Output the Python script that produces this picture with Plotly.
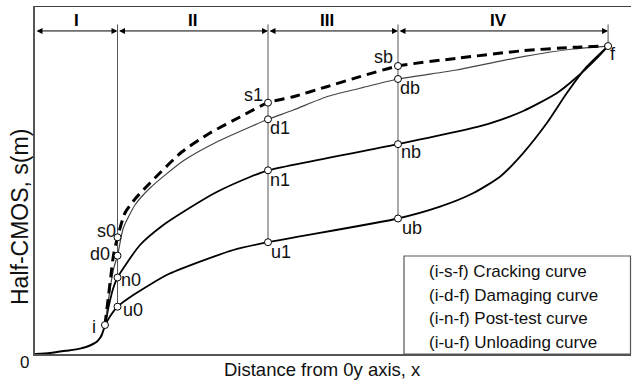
import plotly.graph_objects as go

# ---------------- data (normalised: f = (100, 100)) ----------------
# initial curve 0 -> i
base_x = [0, 2.62, 5.53, 7.85, 9.02, 10.12, 10.77, 11.34, 11.64, 11.95, 12.21]
base_y = [0, 0.32, 1.07, 1.75, 2.37, 3.25, 3.99, 5.20, 6.17, 7.79, 9.42]

# (i-s-f) Cracking curve
crack_x = [12.21, 12.74, 13.26, 13.70, 14.40, 15.70, 17.45, 20.07, 25.60, 30.54, 35.77, 40.66,
           45.08, 50.90, 56.71, 63.34, 73.59, 85.21, 93.88, 100]
crack_y = [9.42, 17.54, 25.65, 32.15, 37.89, 45.79, 50.33, 55.53, 65.59, 71.76, 76.96, 81.60,
           83.55, 86.80, 90.05, 93.52, 96.02, 98.49, 99.59, 100]

# (i-d-f) Damaging curve
dam_x = [12.21, 12.74, 13.26, 13.79, 14.40, 15.41, 17.45, 20.07, 25.83, 31.71, 37.51, 40.66,
         45.08, 50.90, 56.71, 63.34, 73.59, 85.15, 93.88, 100]
dam_y = [9.42, 16.56, 23.05, 28.25, 31.92, 40.91, 48.38, 53.90, 62.67, 68.84, 73.71, 76.21,
         79.23, 83.55, 86.28, 89.30, 92.22, 96.54, 99.04, 100]

# (i-n-f) Post-test curve
post_x = [12.21, 12.91, 13.61, 14.40, 18.32, 22.39, 25.83, 31.71, 37.51, 40.66,
          63.34, 73.59, 79.39, 85.21, 91.03, 94.52, 98.01, 100]
post_y = [9.42, 15.91, 21.11, 24.84, 35.39, 41.89, 46.11, 52.60, 57.48, 59.65,
          68.13, 72.18, 74.91, 78.91, 84.65, 89.85, 96.02, 100]

# (i-u-f) Unloading curve
unl_x = [12.21, 13.26, 14.40, 17.15, 22.98, 28.79, 34.60, 40.66,
         63.34, 70.67, 76.43, 81.14, 85.15, 89.29, 92.78, 96.27, 100]
unl_y = [9.42, 12.66, 15.36, 19.16, 25.65, 29.97, 33.77, 36.30,
         44.00, 47.83, 52.18, 57.57, 65.17, 74.91, 84.65, 93.29, 100]

# labelled points
pt_names = ["i", "s0", "d0", "n0", "u0", "s1", "d1", "n1", "u1",
            "sb", "db", "nb", "ub", "f"]
pt_x = [12.21, 14.40, 14.40, 14.40, 14.40, 40.66, 40.66, 40.66, 40.66,
        63.34, 63.34, 63.34, 63.34, 100]
pt_y = [9.42, 37.89, 31.92, 24.84, 15.36, 81.60, 76.21, 59.65, 36.30,
        93.52, 89.30, 68.13, 44.00, 100]

# zone boundaries and names
zone_bounds = [0, 14.40, 40.66, 63.34, 100]
zone_names = ["I", "II", "III", "IV"]
# lowest point reached by each boundary line
bound_low = [None, 15.36, 36.30, 44.00, 100]

legend_lines = ["(i-s-f) Cracking curve", "(i-d-f) Damaging curve",
                "(i-n-f) Post-test curve", "(i-u-f) Unloading curve"]

x_title = "Distance from 0y axis, x"
y_title = "Half-CMOS, s(m)"

# ---------------- styling / layout constants ----------------
XR = [0, 104]
YR = [0, 113]
FONT = "Liberation Sans, Arial, Helvetica, sans-serif"
Y_ARROW = 104.9
Y_TICKTOP = 107.0
Y_ZONE_LABEL = 108.2
ZONE_LABEL_SHIFT = [0, 0, -6, -5]
L, R, T, B, W, H = 35, 1, 6, 30, 632, 384
PW, PH = W - L - R, H - T - B


def paper_x(px):
    return (px - L) / PW


def paper_y(py):
    return (H - B - py) / PH


# pixel offsets of point labels (dx, dy_up)
label_shift = {
    "i": (-11, -2), "s0": (-11, 6), "d0": (-18, 2), "n0": (13, -2), "u0": (15, -3),
    "s1": (-15, 8), "d1": (12, -9), "n1": (12, -10), "u1": (13, -10),
    "sb": (-14, 9), "db": (12, -9), "nb": (13, -8), "ub": (14, -9), "f": (5, -8),
}

fig = go.Figure()

line_common = dict(shape="spline", smoothing=0.6)

# boundary vertical lines
for xb, lo in zip(zone_bounds[1:], bound_low[1:]):
    fig.add_trace(go.Scatter(x=[xb, xb], y=[lo, Y_TICKTOP], mode="lines",
                             line=dict(color="#555", width=1), hoverinfo="skip",
                             showlegend=False))

fig.add_trace(go.Scatter(x=base_x, y=base_y, mode="lines",
                         line=dict(color="black", width=2, **line_common),
                         showlegend=False))
fig.add_trace(go.Scatter(x=unl_x, y=unl_y, mode="lines",
                         line=dict(color="black", width=1.8, **line_common),
                         showlegend=False))
fig.add_trace(go.Scatter(x=post_x, y=post_y, mode="lines",
                         line=dict(color="black", width=1.8, **line_common),
                         showlegend=False))
fig.add_trace(go.Scatter(x=dam_x, y=dam_y, mode="lines",
                         line=dict(color="#444", width=1.2, **line_common),
                         showlegend=False))
fig.add_trace(go.Scatter(x=crack_x, y=crack_y, mode="lines",
                         line=dict(color="black", width=3, dash="10px,6px", **line_common),
                         showlegend=False))

fig.add_trace(go.Scatter(x=pt_x, y=pt_y, mode="markers",
                         marker=dict(size=7, color="white",
                                     line=dict(color="black", width=1)),
                         showlegend=False, cliponaxis=False))

annotations = []
# point labels
for name, px, py in zip(pt_names, pt_x, pt_y):
    dx, dy = label_shift[name]
    annotations.append(dict(x=px, y=py, xref="x", yref="y", text=name,
                            showarrow=False, xshift=dx, yshift=dy,
                            xanchor="center", yanchor="middle",
                            font=dict(family=FONT, size=18, color="#111")))

# zone arrows and names
for k in range(len(zone_names)):
    a, b = zone_bounds[k], zone_bounds[k + 1]
    annotations.append(dict(x=b, y=Y_ARROW, ax=a, ay=Y_ARROW, xref="x", yref="y",
                            axref="x", ayref="y", text="", showarrow=True,
                            arrowside="end+start", arrowhead=2, arrowsize=1.2,
                            arrowwidth=1, arrowcolor="black"))
    annotations.append(dict(x=(a + b) / 2, y=Y_ZONE_LABEL, xref="x", yref="y",
                            text="<b>%s</b>" % zone_names[k], showarrow=False,
                            xshift=ZONE_LABEL_SHIFT[k],
                            xanchor="center", yanchor="middle",
                            font=dict(family=FONT, size=17, color="black")))

# legend text
leg_y_px = [271, 295, 318.5, 342]
for t, ly in zip(legend_lines, leg_y_px):
    annotations.append(dict(x=paper_x(427), y=paper_y(ly), xref="paper", yref="paper",
                            text=t, showarrow=False, xanchor="left", yanchor="middle",
                            font=dict(family=FONT, size=17, color="#111")))

# origin label and axis titles
annotations.append(dict(x=paper_x(24), y=paper_y(362), xref="paper", yref="paper",
                        text="0", showarrow=False, xanchor="center", yanchor="middle",
                        font=dict(family=FONT, size=17, color="#111")))
annotations.append(dict(x=paper_x(322.5), y=paper_y(369.5),
                        xref="paper", yref="paper", text=x_title, showarrow=False,
                        xanchor="center", yanchor="middle",
                        font=dict(family=FONT, size=18.5, color="#111")))
annotations.append(dict(x=paper_x(20), y=paper_y(217),
                        xref="paper", yref="paper", text=y_title, showarrow=False,
                        textangle=-90, xanchor="center", yanchor="middle",
                        font=dict(family=FONT, size=23, color="#111")))

shapes = [
    # top border
    dict(type="line", xref="x", yref="y", x0=0, x1=XR[1], y0=YR[1], y1=YR[1],
         line=dict(color="black", width=1.5)),
    # legend box
    dict(type="rect", xref="paper", yref="paper", x0=paper_x(404), x1=paper_x(630.5),
         y0=0, y1=paper_y(256),
         line=dict(color="#555", width=1.2), fillcolor="white", layer="above"),
]

fig.update_layout(
    width=W, height=H,
    margin=dict(l=L, r=R, t=T, b=B),
    paper_bgcolor="white", plot_bgcolor="white",
    xaxis=dict(range=XR, showgrid=False, zeroline=False, showticklabels=False,
               ticks="", showline=True, linecolor="#555", linewidth=1.5, fixedrange=True),
    yaxis=dict(range=YR, showgrid=False, zeroline=False, showticklabels=False,
               ticks="", showline=True, linecolor="#555", linewidth=1.5, fixedrange=True),
    annotations=annotations, shapes=shapes, showlegend=False,
)

fig.write_html("out.html")
